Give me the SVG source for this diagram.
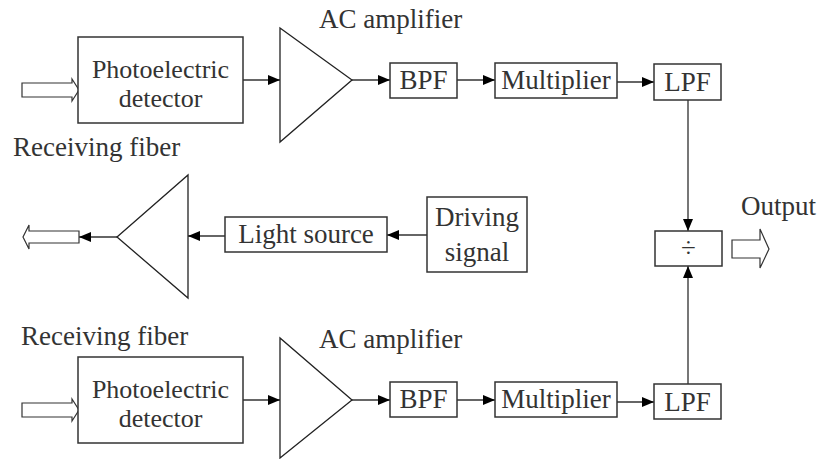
<svg xmlns="http://www.w3.org/2000/svg" width="820" height="459" viewBox="0 0 820 459">
<defs>
<marker id="ah" viewBox="0 0 12 10" refX="12" refY="5" markerWidth="12" markerHeight="10" markerUnits="userSpaceOnUse" orient="auto">
<path d="M0,0 L12,5 L0,10 Z" fill="#000"/>
</marker>
</defs>
<style>
.box{fill:#fff;stroke:#333;stroke-width:1.5}
.tri{fill:#fff;stroke:#222;stroke-width:1.3}
.hol{fill:#fff;stroke:#333;stroke-width:1.2}
.t{font-family:"Liberation Serif","Times New Roman",serif;font-size:27px;fill:#333}
.c{text-anchor:middle}
.s{font-size:26px}
.ln{fill:none;stroke:#333;stroke-width:1.3;marker-end:url(#ah)}
.lg{fill:none;stroke:#777;stroke-width:2;marker-end:url(#ah)}
</style>
<rect width="820" height="459" fill="#fff"/>

<g id="connectors">
<line class="ln" x1="243" y1="80" x2="280" y2="80"/>
<line class="ln" x1="352" y1="80" x2="390" y2="80"/>
<line class="ln" x1="457" y1="80" x2="495" y2="80"/>
<line class="ln" x1="617" y1="82" x2="654" y2="82"/>
<line class="lg" x1="688" y1="100" x2="688" y2="231"/>
<line class="ln" x1="427" y1="235" x2="387" y2="235"/>
<line class="ln" x1="225" y1="236" x2="188" y2="236"/>
<line class="ln" x1="117" y1="237" x2="79" y2="237"/>
<line class="ln" x1="243" y1="400" x2="280" y2="400"/>
<line class="ln" x1="352" y1="400" x2="390" y2="400"/>
<line class="ln" x1="457" y1="400" x2="495" y2="400"/>
<line class="ln" x1="617" y1="402" x2="654" y2="402"/>
<line class="lg" x1="688" y1="384" x2="688" y2="266"/>
</g>

<g id="labels">
<text class="t" x="13" y="156">Receiving fiber</text>
<text class="t" x="21" y="345">Receiving fiber</text>
<text class="t" x="319" y="28">AC amplifier</text>
<text class="t" x="319" y="348">AC amplifier</text>
<text class="t" x="741" y="215">Output</text>
</g>

<g id="input-top">
<polygon class="hol" points="22,83 72,83 72,79 79,90 72,101 72,97 22,97"/>
</g>
<g id="detector-top">
<rect class="box" x="78" y="37" width="165" height="86"/>
<text class="t c s" x="160.5" y="78">Photoelectric</text>
<text class="t c s" x="160.5" y="107">detector</text>
</g>
<g id="amp-top">
<polygon class="tri" points="280,28 280,142 352,80"/>
</g>
<g id="bpf-top">
<rect class="box" x="390" y="63" width="67" height="35"/>
<text class="t c" x="423.5" y="89">BPF</text>
</g>
<g id="mult-top">
<rect class="box" x="495" y="63" width="122" height="35"/>
<text class="t c" x="556" y="89">Multiplier</text>
</g>
<g id="lpf-top">
<rect class="box" x="654" y="64" width="67" height="36"/>
<text class="t c" x="687.5" y="91">LPF</text>
</g>

<g id="output-arrow">
<polygon class="hol" points="732,240 760,240 760,229 769,249 760,268 760,258 732,258"/>
</g>
<g id="divider">
<rect class="box" x="655" y="231" width="67" height="35"/>
<text class="t c" x="688.5" y="257">÷</text>
</g>
<g id="driving">
<rect class="box" x="427" y="197" width="100" height="75"/>
<text class="t c" x="477" y="226">Driving</text>
<text class="t c" x="477" y="261">signal</text>
</g>
<g id="light-source">
<rect class="box" x="225" y="217" width="162" height="35"/>
<text class="t c" x="306" y="243">Light source</text>
</g>
<g id="amp-mid">
<polygon class="tri" points="188,175 188,298 117,237"/>
</g>
<g id="output-fiber">
<polygon class="hol" points="79,231 29,231 29,225 23,237 29,249 29,243 79,243"/>
</g>

<g id="input-bot">
<polygon class="hol" points="22,403 72,403 72,399 79,410 72,421 72,417 22,417"/>
</g>
<g id="detector-bot">
<rect class="box" x="78" y="357" width="165" height="86"/>
<text class="t c s" x="160.5" y="398">Photoelectric</text>
<text class="t c s" x="160.5" y="427">detector</text>
</g>
<g id="amp-bot">
<polygon class="tri" points="280,338 280,458 352,400"/>
</g>
<g id="bpf-bot">
<rect class="box" x="390" y="382" width="67" height="35"/>
<text class="t c" x="423.5" y="408">BPF</text>
</g>
<g id="mult-bot">
<rect class="box" x="495" y="382" width="122" height="35"/>
<text class="t c" x="556" y="408">Multiplier</text>
</g>
<g id="lpf-bot">
<rect class="box" x="654" y="384" width="67" height="35"/>
<text class="t c" x="687.5" y="411">LPF</text>
</g>
</svg>
